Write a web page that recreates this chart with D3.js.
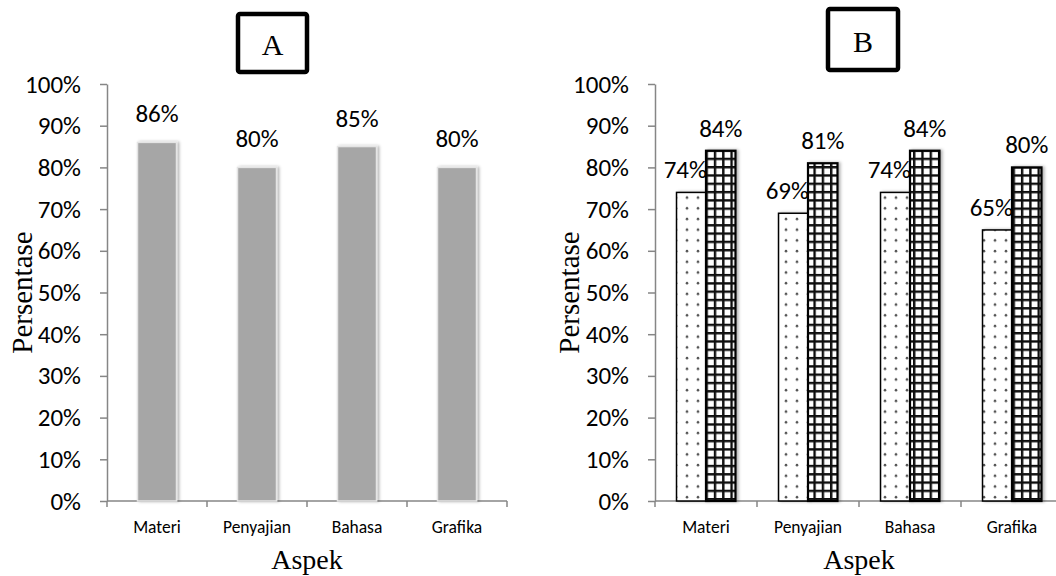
<!DOCTYPE html>
<html>
<head>
<meta charset="utf-8">
<script src="https://cdn.jsdelivr.net/npm/d3@7/dist/d3.min.js"></script>
<style>
  html, body { margin: 0; padding: 0; background: #fff; }
  svg { display: block; }
</style>
</head>
<body>
<svg id="chart" width="1056" height="576"></svg>
<script>
// Aspects evaluated
const categories = ["Materi", "Penyajian", "Bahasa", "Grafika"];
// Panel A: single percentage per aspect
const valuesA = [86, 80, 85, 80];
// Panel B: two series per aspect (dotted and cross-hatched)
const valuesB1 = [74, 69, 74, 65];
const valuesB2 = [84, 81, 84, 80];
// Y axis ticks (percent)
const yTicks = [0, 10, 20, 30, 40, 50, 60, 70, 80, 90, 100];

const sansFont = "Carlito, Lato, 'Open Sans', sans-serif";
const serifFont = "'Liberation Serif', 'Times New Roman', serif";
const axisColor = "#868686";

const svg = d3.select("#chart");
const defs = svg.append("defs");

// dotted fill
const dots = defs.append("pattern")
  .attr("id", "dots").attr("patternUnits", "userSpaceOnUse")
  .attr("width", 11).attr("height", 10.7);
dots.append("rect").attr("width", 11).attr("height", 10.7).attr("fill", "#fff");
dots.append("circle").attr("cx", 5).attr("cy", 5).attr("r", 1.3).attr("fill", "#555");

// square grid fill
const grid = defs.append("pattern")
  .attr("id", "grid").attr("patternUnits", "userSpaceOnUse")
  .attr("width", 8.3).attr("height", 8.3);
grid.append("rect").attr("width", 8.3).attr("height", 8.3).attr("fill", "#fff");
grid.append("rect").attr("x", 0).attr("y", 0).attr("width", 2.4).attr("height", 8.3).attr("fill", "#111");
grid.append("rect").attr("x", 0).attr("y", 0).attr("width", 8.3).attr("height", 2.4).attr("fill", "#111");

// soft shadow to the right of bars
const shadow = defs.append("filter").attr("id", "shadow")
  .attr("x", "-20%").attr("y", "-5%").attr("width", "150%").attr("height", "110%");
shadow.append("feDropShadow").attr("dx", 2).attr("dy", 0)
  .attr("stdDeviation", 1.5).attr("flood-color", "#000").attr("flood-opacity", 0.3);

function panel(opts) {
  const g = svg.append("g");
  const y = d3.scaleLinear().domain([0, 100]).range([opts.y0, opts.y1]);
  const x = d3.scaleBand().domain(categories).range([opts.x0, opts.x1]);

  // y axis
  const yAxis = g.append("g")
    .attr("transform", `translate(${opts.x0},0)`)
    .call(d3.axisLeft(y).tickValues(yTicks).tickFormat(d => d + "%")
      .tickSize(7).tickSizeOuter(0).tickPadding(19));
  yAxis.select(".domain").attr("stroke", axisColor).attr("stroke-width", 1.5);
  yAxis.selectAll(".tick line").attr("stroke", axisColor).attr("stroke-width", 1.5);
  yAxis.selectAll(".tick text")
    .attr("font-family", sansFont).attr("font-size", 25).attr("fill", "#000");

  // x axis line with ticks at category boundaries
  g.append("line")
    .attr("x1", opts.x0).attr("x2", opts.x1)
    .attr("y1", y(0)).attr("y2", y(0))
    .attr("stroke", axisColor).attr("stroke-width", 1.5);
  const bounds = categories.map(c => x(c)).concat([opts.x1]);
  g.selectAll(".xtick").data(bounds).join("line")
    .attr("x1", d => d).attr("x2", d => d)
    .attr("y1", y(0)).attr("y2", y(0) + 6)
    .attr("stroke", axisColor).attr("stroke-width", 1.5);
  g.selectAll(".xlab").data(categories).join("text")
    .attr("x", d => x(d) + x.bandwidth() / 2)
    .attr("y", y(0) + 32)
    .attr("text-anchor", "middle")
    .attr("font-family", sansFont).attr("font-size", 17.5)
    .text(d => d);

  // axis titles
  g.append("text")
    .attr("x", (opts.x0 + opts.x1) / 2).attr("y", 569)
    .attr("text-anchor", "middle")
    .attr("font-family", serifFont).attr("font-size", 28)
    .text("Aspek");
  g.append("text")
    .attr("transform", `translate(${opts.titleX},${(opts.y0 + opts.y1) / 2}) rotate(-90)`)
    .attr("text-anchor", "middle")
    .attr("font-family", serifFont).attr("font-size", 29)
    .text("Persentase");

  // panel letter in a bold box
  g.append("rect")
    .attr("x", opts.box[0]).attr("y", opts.box[1])
    .attr("width", opts.box[2]).attr("height", opts.box[3])
    .attr("rx", 2).attr("fill", "#fff")
    .attr("stroke", "#000").attr("stroke-width", 4.5);
  g.append("text")
    .attr("x", opts.box[0] + opts.box[2] / 2)
    .attr("y", opts.box[1] + opts.box[3] / 2 + 12)
    .attr("text-anchor", "middle")
    .attr("font-family", serifFont).attr("font-size", 30)
    .text(opts.letter);

  return { g, x, y };
}

// ---- Panel A ----
const A = panel({ x0: 107, x1: 507, y0: 501, y1: 84, titleX: 32, box: [238, 14, 69, 58], letter: "A" });
const wA = A.x.bandwidth() * 0.39;
const rowsA = categories.map((c, i) => ({ c, v: valuesA[i] }));
A.g.selectAll(".barA").data(rowsA).join("rect")
  .attr("x", d => A.x(d.c) + A.x.bandwidth() / 2 - wA / 2)
  .attr("y", d => A.y(d.v))
  .attr("width", wA)
  .attr("height", d => A.y(0) - A.y(d.v))
  .attr("fill", "#a6a6a6")
  .attr("stroke", "#e4e4e4").attr("stroke-width", 1.5)
  .attr("filter", "url(#shadow)");
A.g.selectAll(".labA").data(rowsA).join("text")
  .attr("x", d => A.x(d.c) + A.x.bandwidth() / 2)
  .attr("y", d => A.y(d.v) - 20)
  .attr("text-anchor", "middle")
  .attr("font-family", sansFont).attr("font-size", 25)
  .text(d => d.v + "%");

// ---- Panel B ----
const B = panel({ x0: 655, x1: 1063, y0: 501, y1: 84, titleX: 579, box: [828, 9, 70, 61], letter: "B" });
const sub = d3.scaleBand().domain(["s1", "s2"]).range([0, B.x.bandwidth()])
  .paddingInner(0).paddingOuter(0.73);
const rowsB = [];
categories.forEach((c, i) => {
  rowsB.push({ c, s: "s1", v: valuesB1[i] });
  rowsB.push({ c, s: "s2", v: valuesB2[i] });
});
B.g.selectAll(".barB").data(rowsB).join("rect")
  .attr("x", d => B.x(d.c) + sub(d.s))
  .attr("y", d => B.y(d.v))
  .attr("width", sub.bandwidth())
  .attr("height", d => B.y(0) - B.y(d.v))
  .attr("fill", d => d.s === "s1" ? "url(#dots)" : "url(#grid)")
  .attr("stroke", "#000")
  .attr("stroke-width", d => d.s === "s1" ? 1.5 : 2.2)
  .attr("filter", "url(#shadow)");
// the dotted-series labels sit a little left of their bar, the grid labels centred
B.g.selectAll(".labB").data(rowsB).join("text")
  .attr("x", d => B.x(d.c) + sub(d.s) + sub.bandwidth() / 2 - (d.s === "s1" ? 6 : 0))
  .attr("y", d => B.y(d.v) - 14)
  .attr("text-anchor", "middle")
  .attr("font-family", sansFont).attr("font-size", 25)
  .text(d => d.v + "%");
</script>
</body>
</html>
